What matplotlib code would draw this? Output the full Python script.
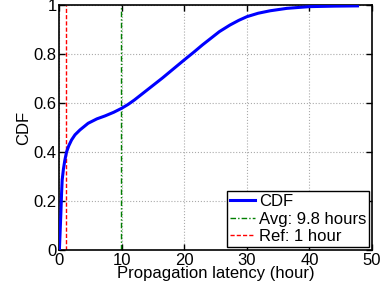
import matplotlib
matplotlib.use("Agg")
import matplotlib.pyplot as plt

latency = [0.0, 0.1, 0.24, 0.35, 0.45, 0.65, 0.88, 1.15, 1.5, 1.95, 2.5, 3.3,
           4.6, 6.0, 7.3, 8.7, 9.95, 11.0, 12.0, 13.0, 14.5, 16.5, 18.2, 20.0,
           21.5, 22.9, 24.3, 25.6, 27.3, 28.7, 30.0, 31.8, 33.7, 36.4, 40.0,
           44.0, 47.7]
cdf = [0.0, 0.06, 0.15, 0.23, 0.286, 0.33, 0.367, 0.40, 0.425, 0.449, 0.47, 0.49,
       0.517, 0.535, 0.547, 0.562, 0.578, 0.594, 0.612, 0.632, 0.662, 0.702, 0.738,
       0.776, 0.807, 0.837, 0.865, 0.891, 0.918, 0.937, 0.952, 0.966, 0.976,
       0.986, 0.993, 0.995, 0.996]
avg_hours = 9.8
ref_hours = 1.0

plt.rcParams["font.family"] = ["Liberation Sans", "DejaVu Sans"]

fig = plt.figure(figsize=(3.83, 2.89), dpi=100)
ax = fig.add_axes([0.155, 0.135, 0.816, 0.848])

ax.plot(latency, cdf, color="#0000ff", linewidth=2.2, label="CDF", zorder=3,
        solid_joinstyle="round")
ax.axvline(avg_hours, color="#007f00", linestyle=(0, (4, 1.5, 1, 1.5)),
           linewidth=1.0, label="Avg: 9.8 hours")
ax.axvline(ref_hours, color="#ff0000", linestyle=(0, (3, 1.5)), linewidth=1.0,
           label="Ref: 1 hour")

ax.set_xlim(0, 50)
ax.set_ylim(0, 1)
ax.set_xticks([0, 10, 20, 30, 40, 50])
ax.set_yticks([0, 0.2, 0.4, 0.6, 0.8, 1])
ax.set_yticklabels(["0", "0.2", "0.4", "0.6", "0.8", "1"])
ax.tick_params(direction="in", top=True, right=True, length=4, width=1,
               labelsize=12, pad=2)
ax.grid(True, linestyle=":", color="#aaaaaa", linewidth=0.8)
for spine in ax.spines.values():
    spine.set_linewidth(1.2)

ax.set_xlabel("Propagation latency (hour)", fontsize=12, labelpad=-1)
ax.set_ylabel("CDF", fontsize=12, labelpad=2)

leg = ax.legend(loc="lower right", fontsize=12, handlelength=1.5,
                handletextpad=0.2, borderpad=0.2, labelspacing=0.15,
                fancybox=False, framealpha=1, borderaxespad=0.15)
leg.get_frame().set_edgecolor("black")
leg.get_frame().set_linewidth(1.0)

fig.savefig("out.png", dpi=100)
